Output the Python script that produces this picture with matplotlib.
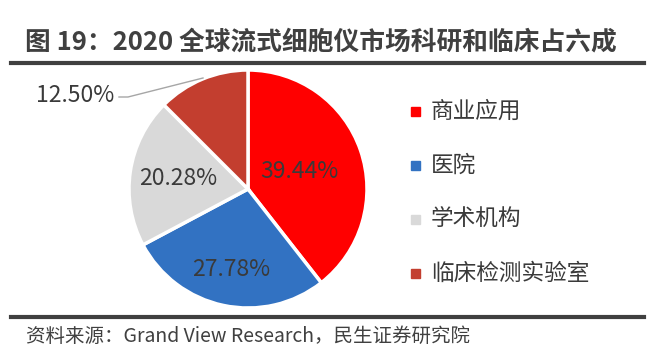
import numpy as np
import matplotlib
matplotlib.use('Agg')
import matplotlib.pyplot as plt

plt.rcParams['font.family'] = ['Noto Sans CJK SC', 'DejaVu Sans']

categories = ['商业应用', '医院', '学术机构', '临床检测实验室']
shares = [39.44, 27.78, 20.28, 12.50]
labels = ['39.44%', '27.78%', '20.28%', '12.50%']
colors = ['#FF0000', '#3272C2', '#D9D9D9', '#C33E2F']
text_color = '#3A3A3A'

W, H = 663, 359
fig = plt.figure(figsize=(W / 100, H / 100), dpi=100)
ax = fig.add_axes([0, 0, 1, 1])

# pie in pixel coordinates (y up)
cx, cy, r = 248, H - 189, 119
wedges, _ = ax.pie(shares, colors=colors, startangle=90, counterclock=False,
                   center=(cx, cy), radius=r, frame=True,
                   wedgeprops=dict(edgecolor='white', linewidth=2.5))
ax.set_xlim(0, W)
ax.set_ylim(0, H)
ax.axis('off')

# percentage labels inside slices
dist = [0.46, 0.69, 0.59]
for w, lab, d in zip(wedges[:3], labels[:3], dist):
    ang = np.deg2rad((w.theta1 + w.theta2) / 2)
    ax.text(cx + d * r * np.cos(ang), cy + d * r * np.sin(ang), lab,
            ha='center', va='center', fontsize=16.5, color=text_color)

# outside label for smallest slice with leader line
ax.text(75, H - 96, labels[3], ha='center', va='center', fontsize=16.5, color=text_color)
ax.plot([119, 128, 203], [H - 97, H - 97, H - 78], color='#A6A6A6', lw=1)

# legend
leg_y = [111, 165, 219, 273]
for c, name, y in zip(colors, categories, leg_y):
    ax.add_patch(plt.Rectangle((411, H - y - 4.5), 9, 9, color=c))
    ax.text(431, H - y, name, ha='left', va='center', fontsize=16.3, color=text_color)

# title, rules, source
fig.text(25 / W, 1 - 42 / H, '图 19：2020 全球流式细胞仪市场科研和临床占六成',
         ha='left', va='center', fontsize=18.5, fontweight='bold', color='#404040')
ax.plot([11, 644], [H - 63, H - 63], color='#404040', lw=3)
ax.plot([11, 644], [H - 317, H - 317], color='#404040', lw=3)
fig.text(26 / W, 1 - 336 / H, '资料来源：Grand View Research，民生证券研究院',
         ha='left', va='center', fontsize=14, color='#404040')

fig.savefig('out.png', dpi=100)
